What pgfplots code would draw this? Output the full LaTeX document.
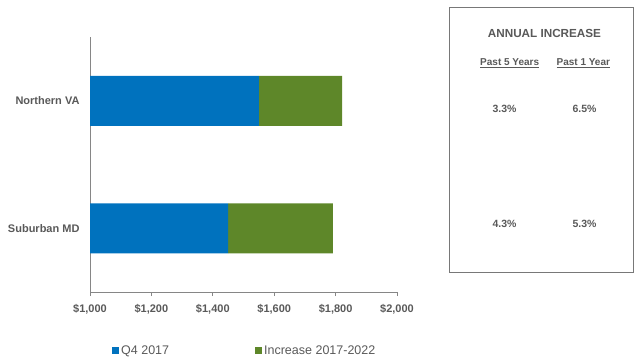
\documentclass[border=0pt]{standalone}
\usepackage{fontspec}
\setmainfont{Liberation Sans}
\usepackage{pgfplots}
\pgfplotsset{compat=1.18}
\definecolor{cblue}{RGB}{0,114,190}
\definecolor{cgreen}{RGB}{94,135,41}
\definecolor{tgray}{RGB}{89,89,89}
\definecolor{agray}{RGB}{134,134,134}
\definecolor{bgray}{RGB}{120,120,120}
\begin{document}
\begin{tikzpicture}[x=1bp,y=1bp]
\path (0,0) rectangle (635,360);
\begin{axis}[
  at={(90bp,68bp)}, anchor=south west,
  scale only axis, width=307bp, height=255bp,
  xbar stacked, bar width=50bp,
  xmin=1000, xmax=2000, ymin=-0.5, ymax=1.5,
  xtick={1000,1200,1400,1600,1800,2000},
  xticklabels={\$1{,}000,\$1{,}200,\$1{,}400,\$1{,}600,\$1{,}800,\$2{,}000},
  ytick={0,1}, yticklabels={Suburban MD,Northern VA},
  axis x line*=bottom, axis y line*=left,
  axis line style={agray, line width=0.9bp, -},
  x tick style={agray, line width=0.9bp}, tick align=outside, major tick length=4bp,
  y tick style={draw=none},
  xticklabel style={font=\fontsize{11bp}{13bp}\selectfont\bfseries, text=tgray, yshift=-5bp},
  yticklabel style={font=\fontsize{11bp}{13bp}\selectfont\bfseries, text=tgray, xshift=-3bp},
  /pgf/number format/assume math mode=true,
  clip=true,
  legend style={at={(0.0717,-0.231)}, anchor=west, draw=none, fill=none, inner sep=0pt,
    font=\fontsize{12.5bp}{14bp}\selectfont, text=tgray,
    /tikz/every even column/.append style={column sep=84bp}},
  legend columns=2, legend cell align=left,
  legend image code/.code={\fill[#1] (0bp,-3.5bp) rectangle (7bp,3.5bp);},
]
\addplot[fill=cblue, draw=none] coordinates {(1450,0) (1550,1)};
\addplot[fill=cgreen, draw=none] coordinates {(341,0) (271,1)};
\legend{Q4 2017, Increase 2017-2022}
\end{axis}
\draw[bgray, line width=0.9bp] (449,88) rectangle (633,353);
\begin{scope}[every node/.style={text=tgray, inner sep=0pt}]
\node[font=\fontsize{11.7bp}{14bp}\selectfont\bfseries] at (544.5,326.5) {ANNUAL INCREASE};
\node[font=\fontsize{10bp}{12bp}\selectfont\bfseries] at (509.7,296.7) {\underline{Past 5 Years}};
\node[font=\fontsize{10bp}{12bp}\selectfont\bfseries] at (583.3,296.7) {\underline{Past 1 Year}};
\node[font=\fontsize{10.5bp}{12bp}\selectfont\bfseries] at (504.5,251) {3.3\%};
\node[font=\fontsize{10.5bp}{12bp}\selectfont\bfseries] at (584.5,251) {6.5\%};
\node[font=\fontsize{10.5bp}{12bp}\selectfont\bfseries] at (504.5,136) {4.3\%};
\node[font=\fontsize{10.5bp}{12bp}\selectfont\bfseries] at (584.5,136) {5.3\%};
\end{scope}
\end{tikzpicture}
\end{document}
